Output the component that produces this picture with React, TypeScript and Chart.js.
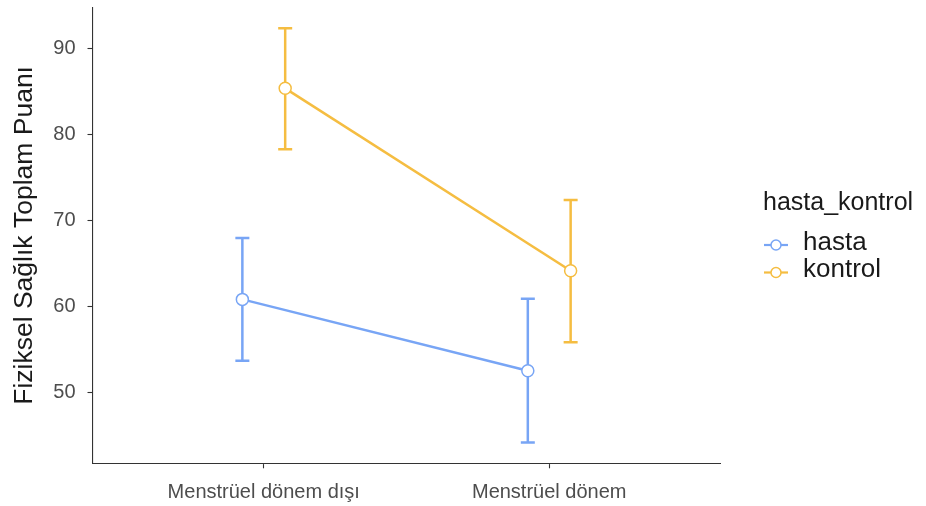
import React, { useEffect, useRef } from 'react';
import { Chart, registerables } from 'chart.js';

Chart.register(...registerables);

const categories = ['Menstrüel dönem dışı', 'Menstrüel dönem'];
const groups = ['hasta', 'kontrol'];
const hastaMean = [60.87, 52.59];
const hastaLower = [53.74, 44.24];
const hastaUpper = [68.0, 60.94];
const kontrolMean = [85.38, 64.2];
const kontrolLower = [78.3, 55.9];
const kontrolUpper = [92.36, 72.4];
const yTicks = [50, 60, 70, 80, 90];
const legendTitle = 'hasta_kontrol';
const yTitle = 'Fiziksel Sağlık Toplam Puanı';

const colors = ['#78A5F5', '#F5BD41'];
const FONT = "'Liberation Sans', Arial, Helvetica, sans-serif";
const dodge = 0.075;

const means = [hastaMean, kontrolMean];
const bounds = [
  [hastaLower, hastaUpper],
  [kontrolLower, kontrolUpper],
];

const allVals = [...hastaLower, ...hastaUpper, ...kontrolLower, ...kontrolUpper];
const dMin = Math.min(...allVals);
const dMax = Math.max(...allVals);
const yMin = dMin - 0.05 * (dMax - dMin);
const yMax = dMax + 0.05 * (dMax - dMin);

const errorBarPlugin = {
  id: 'errbars',
  beforeDatasetsDraw(chart: any) {
    const ctx = chart.ctx;
    const xs = chart.scales.x;
    const ys = chart.scales.y;
    chart.data.datasets.forEach((ds: any, i: number) => {
      const [lo, hi] = bounds[i];
      ctx.save();
      ctx.strokeStyle = colors[i];
      ctx.lineWidth = 2.5;
      ds.data.forEach((p: any, j: number) => {
        const px = xs.getPixelForValue(p.x);
        const yl = ys.getPixelForValue(lo[j]);
        const yh = ys.getPixelForValue(hi[j]);
        ctx.beginPath();
        ctx.moveTo(px, yl);
        ctx.lineTo(px, yh);
        ctx.moveTo(px - 7, yl);
        ctx.lineTo(px + 7, yl);
        ctx.moveTo(px - 7, yh);
        ctx.lineTo(px + 7, yh);
        ctx.stroke();
      });
      ctx.restore();
    });
  },
};

const legendPlugin = {
  id: 'customLegend',
  afterDraw(chart: any) {
    const ctx = chart.ctx;
    ctx.save();
    ctx.fillStyle = '#1a1a1a';
    ctx.font = `25px ${FONT}`;
    ctx.textAlign = 'left';
    ctx.textBaseline = 'alphabetic';
    ctx.fillText(legendTitle, 763, 210);
    groups.forEach((g, i) => {
      const cy = 245 + i * 27.5;
      ctx.strokeStyle = colors[i];
      ctx.lineWidth = 2.2;
      ctx.beginPath();
      ctx.moveTo(764, cy);
      ctx.lineTo(788, cy);
      ctx.stroke();
      ctx.beginPath();
      ctx.arc(776, cy, 5, 0, Math.PI * 2);
      ctx.fillStyle = '#ffffff';
      ctx.fill();
      ctx.lineWidth = 1.5;
      ctx.stroke();
      ctx.fillStyle = '#1a1a1a';
      ctx.font = `26px ${FONT}`;
      ctx.fillText(g, 803, cy + 4.5);
    });
    ctx.restore();
  },
};

export default function App() {
  const ref = useRef<HTMLCanvasElement | null>(null);

  useEffect(() => {
    if (!ref.current) return;
    const datasets = groups.map((g, i) => ({
      label: g,
      data: means[i].map((v, j) => ({ x: j + 1 + (i === 0 ? -dodge : dodge), y: v })),
      borderColor: colors[i],
      backgroundColor: colors[i],
      borderWidth: 2.5,
      pointRadius: 6,
      pointHoverRadius: 6,
      pointBackgroundColor: '#ffffff',
      pointBorderColor: colors[i],
      pointBorderWidth: 1.5,
      tension: 0,
      fill: false,
    }));

    const chart = new Chart(ref.current, {
      type: 'line',
      data: { datasets },
      plugins: [errorBarPlugin, legendPlugin],
      options: {
        animation: false,
        responsive: false,
        devicePixelRatio: 1,
        layout: { padding: { left: 0, right: 205.5, top: 6, bottom: 0 } },
        plugins: {
          legend: { display: false },
          tooltip: { enabled: false },
          title: { display: false },
        },
        scales: {
          x: {
            type: 'linear',
            min: 0.4,
            max: 2.6,
            afterBuildTicks: (axis: any) => {
              axis.ticks = categories.map((_, i) => ({ value: i + 1 }));
            },
            afterFit: (scale: any) => {
              scale.height = 42.7;
              scale.paddingLeft = 0;
              scale.paddingRight = 0;
            },
            ticks: {
              callback: (v: any) => categories[Math.round(Number(v)) - 1] ?? '',
              autoSkip: false,
              maxRotation: 0,
              minRotation: 0,
              padding: 12.5,
              color: '#4d4d4d',
              font: { family: FONT, size: 20 },
            },
            grid: {
              display: true,
              drawOnChartArea: false,
              drawTicks: true,
              tickLength: 5,
              tickColor: '#333333',
              tickWidth: 1.1,
            },
            border: { display: true, color: '#333333', width: 1.1 },
          },
          y: {
            type: 'linear',
            min: yMin,
            max: yMax,
            afterBuildTicks: (axis: any) => {
              axis.ticks = yTicks.map((v) => ({ value: v }));
            },
            afterFit: (scale: any) => {
              scale.width = 92.5;
              scale.paddingTop = 0;
              scale.paddingBottom = 0;
            },
            ticks: {
              padding: 12,
              color: '#4d4d4d',
              font: { family: FONT, size: 20 },
              callback: (v: any) => String(v),
            },
            grid: {
              display: true,
              drawOnChartArea: false,
              drawTicks: true,
              tickLength: 5,
              tickColor: '#333333',
              tickWidth: 1.1,
            },
            border: { display: true, color: '#333333', width: 1.1 },
            title: {
              display: true,
              text: yTitle,
              color: '#1a1a1a',
              font: { family: FONT, size: 26.5 },
              padding: { top: 9, bottom: 0 },
            },
          },
        },
      },
    } as any);

    return () => chart.destroy();
  }, []);

  return (
    <div style={{ position: 'absolute', left: 0, top: 0, width: 926, height: 506, background: '#ffffff' }}>
      <canvas ref={ref} width={926} height={506} style={{ width: 926, height: 506, display: 'block' }} />
    </div>
  );
}
